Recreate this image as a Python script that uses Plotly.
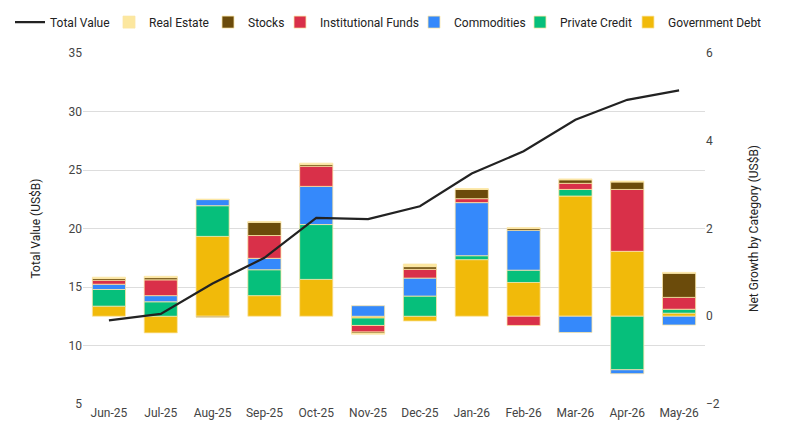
import plotly.graph_objects as go

months = ["Jun-25", "Jul-25", "Aug-25", "Sep-25", "Oct-25", "Nov-25",
          "Dec-25", "Jan-26", "Feb-26", "Mar-26", "Apr-26", "May-26"]

government_debt = [0.23, -0.38, 1.82, 0.47, 0.84, -0.04, -0.11, 1.29, 0.77, 2.74, 1.48, 0.07]
private_credit = [0.38, 0.33, 0.70, 0.59, 1.25, -0.17, 0.46, 0.09, 0.28, 0.15, -1.22, 0.09]
commodities = [0.12, 0.14, 0.14, 0.26, 0.87, 0.24, 0.41, 1.21, 0.91, -0.37, -0.09, -0.20]
institutional_funds = [0.09, 0.36, 0.0, 0.52, 0.46, -0.15, 0.20, 0.09, -0.21, 0.14, 1.41, 0.27]
stocks = [0.04, 0.05, -0.02, 0.30, 0.04, -0.03, 0.06, 0.21, 0.04, 0.08, 0.17, 0.55]
real_estate = [0.03, 0.03, 0.01, 0.02, 0.03, -0.02, 0.06, 0.02, 0.02, 0.02, 0.02, 0.02]

total_value = [12.15, 12.7, 15.3, 17.5, 20.9, 20.8, 21.9, 24.7, 26.6, 29.3, 31.0, 31.8]

# (name, values, colour, legend id)
series = [
    ("Government Debt", government_debt, "#F1BA0A", "legend7"),
    ("Private Credit", private_credit, "#06BF7B", "legend6"),
    ("Commodities", commodities, "#3589FB", "legend5"),
    ("Institutional Funds", institutional_funds, "#D93049", "legend4"),
    ("Stocks", stocks, "#6B4B0B", "legend3"),
    ("Real Estate", real_estate, "#FCE79F", "legend2"),
]

fig = go.Figure()
for name, vals, color, lg in series:
    fig.add_trace(go.Bar(
        x=months, y=vals, name=name, yaxis="y", legend=lg, showlegend=True,
        marker=dict(color=color, line=dict(color="#FBE6A6", width=0.8)),
    ))

fig.add_trace(go.Scatter(
    x=months, y=total_value, name="Total Value", yaxis="y2", legend="legend8",
    showlegend=True, mode="lines", line=dict(color="#222222", width=2.2),
))

# legend placement (text start pixel positions in the reference)
plot_l, plot_w = 83, 622
text_starts = [50, 149, 248, 320, 454, 560, 668]
legend_keys = ["legend8", "legend2", "legend3", "legend4", "legend5", "legend6", "legend7"]
legend_cfg = {}
for key, ts in zip(legend_keys, text_starts):
    legend_cfg[key] = dict(
        orientation="h", x=(ts - 40 - plot_l) / plot_w, xanchor="left",
        y=1.088, yanchor="middle", bgcolor="rgba(0,0,0,0)",
        font=dict(size=12, color="#222222"), itemwidth=30,
    )

fig.update_layout(
    width=800, height=434, showlegend=True,
    margin=dict(l=83, r=95, t=53, b=30, autoexpand=False),
    paper_bgcolor="white", plot_bgcolor="white",
    barmode="relative", bargap=0.36,
    font=dict(family="Roboto, Arial, sans-serif", size=12, color="#444444"),
    xaxis=dict(showgrid=False, showline=False, ticks="",
               tickfont=dict(size=12, color="#444444")),
    yaxis=dict(side="right", range=[-2, 6], dtick=2, showgrid=False,
               zeroline=False, showline=False,
               title=dict(text="Net Growth by Category (US$B)", font=dict(size=12, color="#222222"), standoff=30),
               tickfont=dict(size=12, color="#444444")),
    yaxis2=dict(side="left", overlaying="y", range=[5, 35], dtick=5,
                showgrid=True, gridcolor="#DDDDDD", gridwidth=1, zeroline=False,
                showline=False,
                title=dict(text="Total Value (US$B)", font=dict(size=12, color="#222222"), standoff=25),
                tickfont=dict(size=12, color="#444444")),
    **legend_cfg,
)

fig.write_html("out.html")
